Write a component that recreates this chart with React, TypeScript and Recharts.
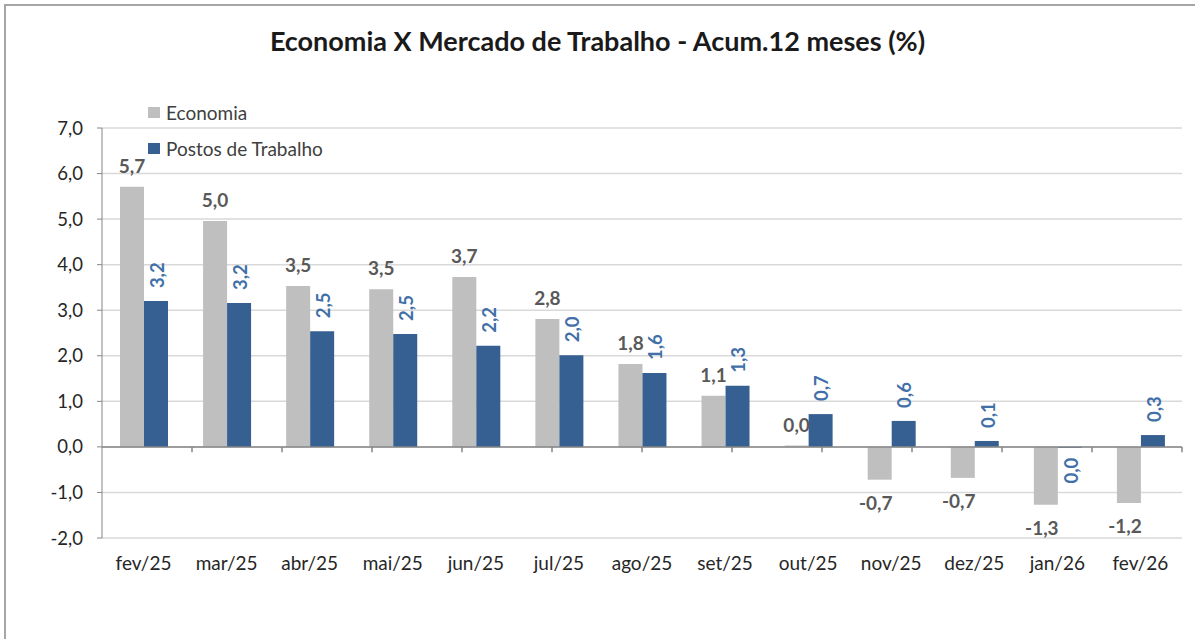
import React from 'react';
import { BarChart, Bar, XAxis, YAxis, CartesianGrid, ReferenceLine, LabelList, Legend } from 'recharts';

const categories = ['fev/25', 'mar/25', 'abr/25', 'mai/25', 'jun/25', 'jul/25', 'ago/25', 'set/25', 'out/25', 'nov/25', 'dez/25', 'jan/26', 'fev/26'];
const economia = [5.71, 4.96, 3.53, 3.46, 3.73, 2.81, 1.82, 1.12, 0.03, -0.72, -0.68, -1.27, -1.23];
const postos = [3.2, 3.16, 2.54, 2.48, 2.22, 2.01, 1.62, 1.34, 0.72, 0.57, 0.13, -0.02, 0.26];
const yTicks = [-2, -1, 0, 1, 2, 3, 4, 5, 6, 7];

const data = categories.map((c, i) => ({ cat: c, economia: economia[i], postos: postos[i] }));
const boundaries = categories.map((_, i) => i + 1);

const FONT = 'Lato, "Open Sans", sans-serif';
const GRAY = '#bfbfbf';
const BLUE = '#376092';

const fmt = (v: number) => {
  const r = Math.round(v * 10) / 10;
  if (Math.abs(r) < 0.05) return '0,0';
  return r.toFixed(1).replace('.', ',');
};

const EconLabel = (props: any) => {
  const { x, y, width, height, value } = props;
  const top = Math.min(y, y + height);
  const bottom = Math.max(y, y + height);
  const cx = value >= 0 ? x + width / 2 : x + width / 2 - 4;
  const ty = value >= 0 ? top - 14 : bottom + 30;
  return (
    <text x={cx} y={ty} textAnchor="middle" fill="#595959" fontSize={19} fontWeight="bold" fontFamily={FONT}>
      {fmt(value)}
    </text>
  );
};

const PostosLabel = (props: any) => {
  const { x, y, width, height, value } = props;
  const top = Math.min(y, y + height);
  const bottom = Math.max(y, y + height);
  const cx = x + width / 2 + 3;
  const py = value >= 0 ? top - 13 : bottom + 10;
  return (
    <text
      x={cx}
      y={py}
      transform={`rotate(-90 ${cx} ${py})`}
      textAnchor={value >= 0 ? 'start' : 'end'}
      dominantBaseline="middle"
      fill="#4170a8"
      fontSize={18.5}
      fontWeight="bold"
      fontFamily={FONT}
    >
      {fmt(value)}
    </text>
  );
};

const LegendContent = () => (
  <div style={{ fontFamily: FONT, fontSize: 19, color: '#404040', background: 'transparent' }}>
    <div style={{ display: 'flex', alignItems: 'center', height: 24, marginBottom: 12 }}>
      <span style={{ width: 12, height: 11, background: GRAY, display: 'inline-block', marginRight: 6 }} />
      <span>Economia</span>
    </div>
    <div style={{ display: 'flex', alignItems: 'center', height: 24, background: '#fff', paddingRight: 6 }}>
      <span style={{ width: 12, height: 11, background: BLUE, display: 'inline-block', marginRight: 6 }} />
      <span>Postos de Trabalho</span>
    </div>
  </div>
);

export default function App() {
  return (
    <div style={{ position: 'absolute', left: 0, top: 0, width: 1195, height: 639, background: '#fff', overflow: 'hidden' }}>
      <div style={{ position: 'absolute', left: 4, top: 4, width: 1200, height: 700, borderTop: '2px solid #a6a6a6', borderLeft: '2px solid #a6a6a6' }} />
      <div
        style={{
          position: 'absolute',
          left: 0,
          top: 24,
          width: 1195,
          textAlign: 'center',
          fontFamily: FONT,
          fontWeight: 'bold',
          fontSize: 27,
          color: '#1a1a1a',
        }}
      >
        Economia X Mercado de Trabalho - Acum.12 meses (%)
      </div>
      <div style={{ position: 'absolute', left: 0, top: 0 }}>
        <BarChart
          width={1195}
          height={639}
          data={data}
          margin={{ top: 128, right: 13, bottom: 61, left: 0 }}
          barSize={24}
          barGap={0}
        >
          <CartesianGrid vertical={false} stroke="#d9d9d9" strokeWidth={1.5} />
          <XAxis
            dataKey="cat"
            axisLine={false}
            tickLine={false}
            tickSize={0}
            tickMargin={19}
            height={40}
            interval={0}
            tick={{ fill: '#262626', fontSize: 19, fontFamily: FONT }}
          />
          <XAxis xAxisId="num" type="number" domain={[0, categories.length]} hide />
          <YAxis
            width={102}
            domain={[-2, 7]}
            ticks={yTicks}
            interval={0}
            axisLine={{ stroke: '#868686' }}
            tickLine={{ stroke: '#868686' }}
            tickSize={5}
            tickMargin={14}
            tickFormatter={(v: number) => v.toFixed(1).replace('.', ',')}
            tick={{ fill: '#262626', fontSize: 18.5, fontFamily: FONT }}
          />
          <Legend
            layout="vertical"
            align="center"
            verticalAlign="middle"
            content={<LegendContent />}
            wrapperStyle={{ position: 'absolute', left: 148, top: 100, width: 240 }}
          />
          <Bar dataKey="economia" fill={GRAY} isAnimationActive={false}>
            <LabelList dataKey="economia" content={<EconLabel />} />
          </Bar>
          <Bar dataKey="postos" fill={BLUE} isAnimationActive={false}>
            <LabelList dataKey="postos" content={<PostosLabel />} />
          </Bar>
          <ReferenceLine y={0} stroke="#868686" strokeWidth={1.5} />
          {boundaries.map((b) => (
            <ReferenceLine
              key={b}
              xAxisId="num"
              segment={[{ x: b, y: 0 }, { x: b, y: -0.12 }]}
              stroke="#868686"
              strokeWidth={1.5}
            />
          ))}
        </BarChart>
      </div>
    </div>
  );
}
